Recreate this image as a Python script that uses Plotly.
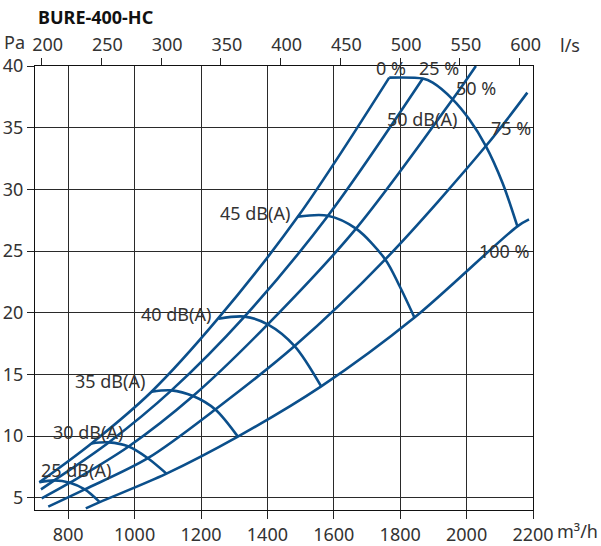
import plotly.graph_objects as go

# ---- data ----
# system curves: damper position lines (airflow m3/h, pressure Pa)
sys_0_x = [713, 870, 1051, 1251, 1492, 1767]
sys_0_y = [6.25, 9.40, 13.59, 19.51, 27.79, 39.06]
sys_25_x = [718, 758, 922, 1111, 1331, 1582, 1868]
sys_25_y = [5.67, 6.40, 9.48, 13.70, 19.68, 27.84, 38.98]
sys_50_x = [720, 805, 982, 1176, 1401, 1667, 1958, 2028]
sys_50_y = [4.94, 6.21, 9.15, 13.24, 19.05, 26.81, 37.30, 40.0]
sys_75_x = [740, 850, 1040, 1243, 1482, 1755, 2058, 2183]
sys_75_y = [4.27, 5.67, 8.20, 12.15, 17.29, 24.32, 33.51, 37.84]
sys_100_x = [853, 895, 1096, 1311, 1562, 1843, 2153, 2188]
sys_100_y = [4.13, 4.64, 6.95, 9.95, 14.02, 19.60, 27.00, 27.56]

# maximum envelope
env_x = [1767, 1868, 1898, 1958, 2008, 2058, 2108, 2153]
env_y = [39.06, 38.98, 38.65, 37.30, 35.68, 33.51, 30.54, 27.00]

# sound level arcs
db25_x = [713, 758, 805, 850, 895]
db25_y = [6.25, 6.40, 6.21, 5.67, 4.64]
db30_x = [870, 922, 982, 1040, 1096]
db30_y = [9.40, 9.48, 9.15, 8.20, 6.95]
db35_x = [1051, 1111, 1176, 1243, 1311]
db35_y = [13.59, 13.70, 13.24, 12.15, 9.95]
db40_x = [1253, 1331, 1401, 1482, 1562]
db40_y = [19.51, 19.68, 19.05, 17.29, 14.02]
db45_x = [1492, 1582, 1667, 1755, 1798, 1843]
db45_y = [27.79, 27.86, 26.81, 24.32, 22.16, 19.60]

# labels (text, x m3/h, y Pa)
label_text = ["0 %", "25 %", "50 %", "50 dB(A)", "75 %", "100 %",
              "45 dB(A)", "40 dB(A)", "35 dB(A)", "30 dB(A)", "25 dB(A)"]
label_x = [1773, 1917, 2028, 1866, 2133, 2113, 1362, 1124, 927, 859, 822]
label_y = [39.8, 39.8, 38.2, 35.7, 34.95, 24.97, 28.05, 19.86, 14.43, 10.29, 7.25]

x_ticks = [800, 1000, 1200, 1400, 1600, 1800, 2000, 2200]
y_ticks = [5, 10, 15, 20, 25, 30, 35, 40]
ls_ticks = [200, 250, 300, 350, 400, 450, 500, 550, 600]

LINE = "#0b4f8b"
FONT = "Noto Sans"
TXT = "#333333"
GRID = "#2a2a2a"

L, R, T, B = 35, 68, 66, 36
W, H = 601, 546

fig = go.Figure()
curves = [
    (sys_0_x, sys_0_y), (sys_25_x, sys_25_y), (sys_50_x, sys_50_y),
    (sys_75_x, sys_75_y), (sys_100_x, sys_100_y), (env_x, env_y),
    (db25_x, db25_y), (db30_x, db30_y), (db35_x, db35_y),
    (db40_x, db40_y), (db45_x, db45_y),
]
for cx, cy in curves:
    fig.add_trace(go.Scatter(x=cx, y=cy, mode="lines",
                             line=dict(color=LINE, width=2.6, shape="spline", smoothing=0.9),
                             showlegend=False, hoverinfo="skip", cliponaxis=True))

# invisible trace for top l/s axis
fig.add_trace(go.Scatter(x=[300], y=[20], xaxis="x2", mode="markers",
                         marker=dict(opacity=0), showlegend=False, hoverinfo="skip"))

for t, lx, ly in zip(label_text, label_x, label_y):
    fig.add_annotation(x=lx, y=ly, xref="x", yref="y", text=t, showarrow=False,
                       font=dict(family=FONT, size=18, color=TXT))


def px_x(p):
    return (p - L) / (W - L - R)


def px_y(p):
    return 1 - (p - T) / (H - T - B)


fig.add_annotation(x=px_x(36), y=px_y(17), xref="paper", yref="paper",
                   text="<b>BURE-400-HC</b>", showarrow=False,
                   xanchor="left", yanchor="middle",
                   font=dict(family=FONT, size=18, color="#111111"))

for text, x0, y0 in [("Pa", 2, 42), ("l/s", 558, 45), ("m³/h", 555, 531)]:
    fig.add_annotation(x=px_x(x0), y=px_y(y0), xref="paper", yref="paper", text=text,
                       showarrow=False, xanchor="left", yanchor="middle",
                       font=dict(family=FONT, size=18, color=TXT))

fig.update_layout(
    width=W, height=H,
    margin=dict(l=L, r=R, t=T, b=B, autoexpand=False),
    paper_bgcolor="white", plot_bgcolor="white",
    font=dict(family=FONT, size=18, color=TXT),
    xaxis=dict(range=[700, 2200], tickvals=x_ticks, ticks="outside", ticklen=8,
               tickcolor="#222", showgrid=True, gridcolor=GRID, gridwidth=1,
               showline=True, linecolor="#111", linewidth=1, mirror=True,
               zeroline=False, automargin=False, tickfont=dict(size=18, color=TXT)),
    xaxis2=dict(range=[700 / 3.6, 2200 / 3.6], overlaying="x", side="top",
                tickvals=ls_ticks, ticks="outside", ticklen=7, tickcolor="#222",
                showgrid=False, showline=False, zeroline=False, automargin=False,
                ticklabelshift=6,
                tickfont=dict(size=18, color=TXT)),
    yaxis=dict(range=[4, 40], tickvals=y_ticks, ticks="outside", ticklen=7,
               tickcolor="#222", showgrid=True, gridcolor=GRID, gridwidth=1,
               showline=True, linecolor="#111", linewidth=1, mirror=True,
               zeroline=False, automargin=False, tickfont=dict(size=18, color=TXT)),
)

fig.write_html("out.html", config={"displayModeBar": False},
               post_script="document.body.style.margin='0';document.body.style.overflow='hidden';")
